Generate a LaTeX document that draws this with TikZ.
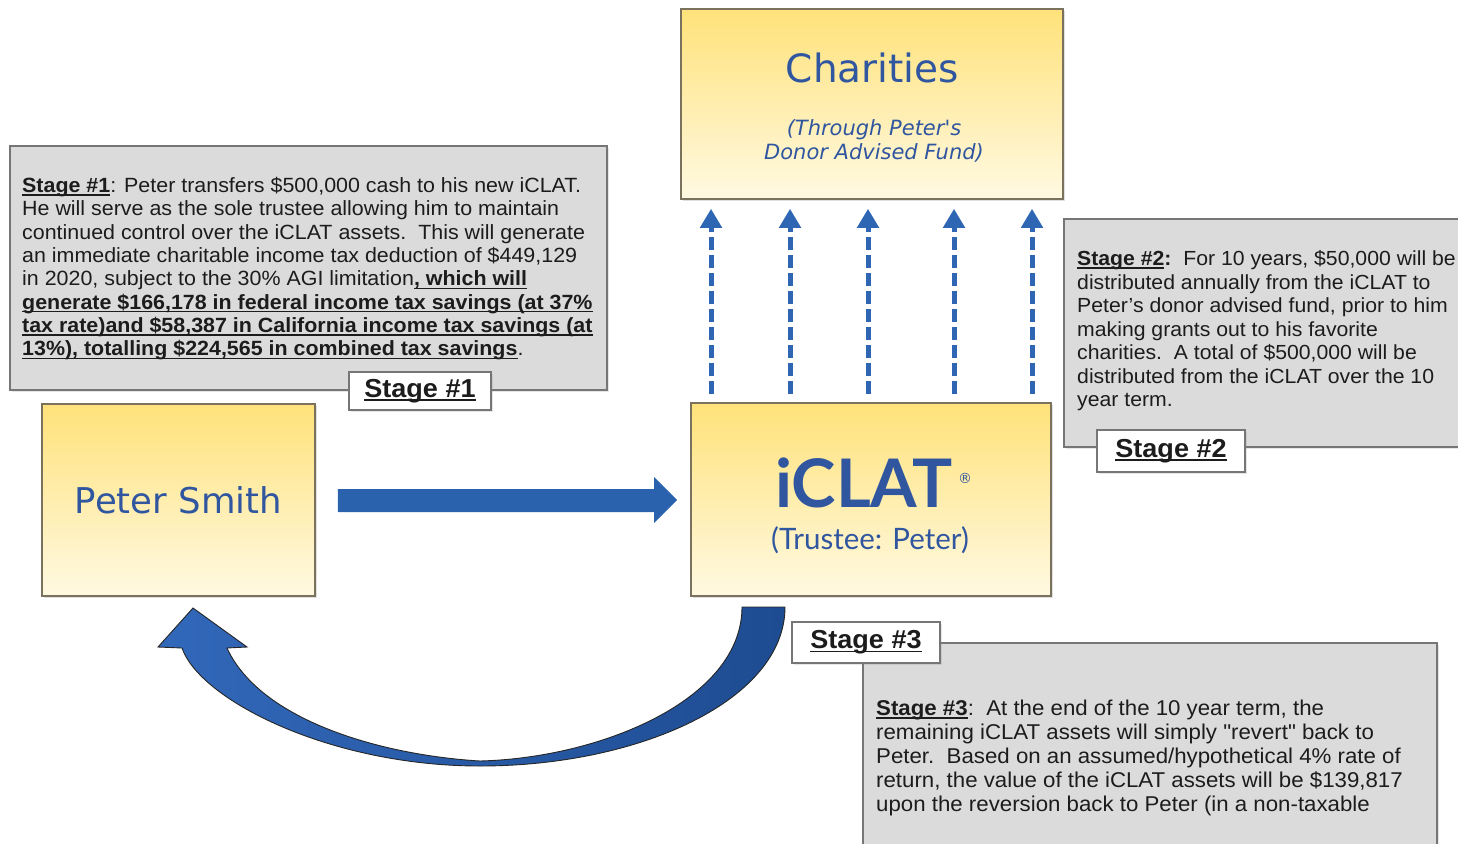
\documentclass[tikz,border=0pt]{standalone}
\usepackage{fontspec}
\setmainfont{Liberation Sans}[FakeStretch=1.04]
\newfontfamily\plainq{Liberation Sans}[FakeStretch=1.04]
\newfontfamily\dvs{DejaVu Sans}
\newfontfamily\lato{Lato}
\usetikzlibrary{arrows.meta,shadows,calc}
\definecolor{boxtop}{RGB}{255,226,122}
\definecolor{boxbot}{RGB}{255,249,226}
\definecolor{boxline}{RGB}{122,114,92}
\definecolor{grayfill}{RGB}{219,219,219}
\definecolor{grayline}{RGB}{118,118,118}
\definecolor{txtblue}{RGB}{48,86,160}
\definecolor{arrblue}{RGB}{42,98,174}
\definecolor{dashblue}{RGB}{46,102,180}
\definecolor{curvL}{RGB}{50,104,186}
\definecolor{curvR}{RGB}{30,76,146}
\definecolor{bodytxt}{RGB}{28,28,28}
\newcommand\ulx[1]{\setbox0\hbox{#1}\rlap{\rule[-3.2pt]{\wd0}{1.3pt}}\box0}
\newcommand\sq{{\plainq"}}
\begin{document}
\begin{tikzpicture}[x=1pt,y=-1pt,
  ybox/.style={draw=boxline, line width=1.6pt, top color=boxtop, bottom color=boxbot,
     drop shadow={shadow xshift=2pt,shadow yshift=-2pt,opacity=0.25}},
  graybox/.style={draw=grayline, line width=1.5pt, fill=grayfill,
     drop shadow={shadow xshift=2pt,shadow yshift=-2pt,opacity=0.2}},
  labelbox/.style={draw=grayline, line width=1.2pt, fill=white, inner sep=0pt,
     font=\bfseries\fontsize{26}{26}\selectfont, text=bodytxt,
     drop shadow={shadow xshift=1.5pt,shadow yshift=-1.5pt,opacity=0.2}},
  bodytext/.style={align=left, inner sep=0pt, text=bodytxt, anchor=base west},
  dasharr/.style={draw=dashblue, line width=5pt, dash pattern=on 13pt off 5pt,
     -{Triangle[width=21pt,length=19pt]}, shorten <=8pt, shorten >=9pt},
  bigarr/.style={fill=arrblue},
  curvarr/.style={left color=curvL, right color=curvR, draw=black!85, line width=0.9pt}
]
\useasboundingbox (0,0) rectangle (1458,843);

% gray explanation boxes
\node[graybox, minimum width=597pt, minimum height=244pt] (s1box) at (308.5,268) {};
\node[graybox, minimum width=398pt, minimum height=228pt] (s2box) at (1263,333) {};
\node[graybox, minimum width=574pt, minimum height=207pt] (s3box) at (1150,746.5) {};

% anchor = baseline of the LAST line
\node[bodytext, font=\fontsize{20.6}{23.3}\selectfont] (s1txt) at (22,355.6) {%
\ulx{\textbf{Stage \#1}}: Peter transfers \$500,000 cash to his new iCLAT.\\
He will serve as the sole trustee allowing him to maintain\\
continued control over the iCLAT assets.\ \ This will generate\\
an immediate charitable income tax deduction of \$449,129\\
in 2020, subject to the 30\% AGI limitation\ulx{\textbf{, which will}}\\
\ulx{\textbf{generate \$166,178 in federal income tax savings (at 37\%}}\\
\ulx{\textbf{tax rate)and \$58,387 in California income tax savings (at}}\\
\ulx{\textbf{13\%), totalling \$224,565 in combined tax savings}}.};

\node[bodytext, font=\fontsize{20.4}{23.5}\selectfont] (s2txt) at (1077,406.5) {%
\ulx{\textbf{Stage \#2}}\textbf{:}\ \ For 10 years, \$50,000 will be\\
distributed annually from the iCLAT to\\
Peter's donor advised fund, prior to him\\
making grants out to his favorite\\
charities.\ \ A total of \$500,000 will be\\
distributed from the iCLAT over the 10\\
year term.};

\node[bodytext, font=\fontsize{21.4}{24}\selectfont] (s3txt) at (876,811.5) {%
\ulx{\textbf{Stage \#3}}:\ \ At the end of the 10 year term, the\\
remaining iCLAT assets will simply \sq revert\sq{} back to\\
Peter.\ \ Based on an assumed/hypothetical 4\% rate of\\
return, the value of the iCLAT assets will be \$139,817\\
upon the reversion back to Peter (in a non-taxable};

% yellow boxes
\node[ybox, minimum width=273pt, minimum height=192pt] (peter) at (178.5,500) {};
\node[text=txtblue, font=\dvs\fontsize{35.5}{36}\selectfont, anchor=base] (petertxt) at (178.5,513) {Peter Smith};

\node[ybox, minimum width=360pt, minimum height=193pt] (iclat) at (871,499.5) {};
\node[text=txtblue, font=\lato\bfseries\fontsize{67}{67}\selectfont, anchor=base] (iclattxt) at (864,507) {iCLAT};
\node[text=txtblue, font=\dvs\fontsize{14}{14}\selectfont, inner sep=0pt] (reg) at (965,478) {®};
\node[text=txtblue, font=\lato\fontsize{29.5}{30}\selectfont, anchor=base] (trustee) at (870,549) {(Trustee: Peter)};

\node[ybox, minimum width=382pt, minimum height=190pt] (charities) at (872,104) {};
\node[text=txtblue, font=\dvs\fontsize{39}{39}\selectfont, anchor=base] (chartxt) at (872.5,82) {Charities};
\node[text=txtblue, font=\dvs\itshape\fontsize{21}{24}\selectfont, align=center, anchor=base, inner sep=0pt] (dafTxt) at (874,159.5) {(Through Peter's\\Donor Advised Fund)};

% stage labels
\node[labelbox, minimum width=142pt, minimum height=38pt] (l1) at (420,391) {\ulx{Stage \#1}};
\node[labelbox, minimum width=148pt, minimum height=42pt] (l2) at (1171,451) {\ulx{Stage \#2}};
\node[labelbox, minimum width=148pt, minimum height=41pt] (l3) at (866,642.5) {\ulx{Stage \#3}};

% straight block arrow Peter -> iCLAT
\fill[bigarr] ($(peter.east)+(22,-11)$) -- ($(iclat.west)+(-36,-10.5)$)
  -- ($(iclat.west)+(-36,-22.5)$) -- ($(iclat.west)+(-13,0.5)$)
  -- ($(iclat.west)+(-36,23.5)$) -- ($(iclat.west)+(-36,12.5)$)
  -- ($(peter.east)+(22,12)$) -- cycle;

% dashed arrows iCLAT -> Charities
\foreach \xx/\nn in {711/1,790/2,868/3,954/4,1032/5}{
  \coordinate (d\nn) at (\xx,300);
  \draw[dasharr] (iclat.north -| d\nn) -- (charities.south -| d\nn);
}

% curved reversion arrow iCLAT -> Peter
\path[curvarr] (785,607) .. controls (785,700) and (640,766) .. (480,766)
  .. controls (330,766) and (200,700) .. (182,648)
  -- (158,647) -- (193,608) -- (247,647) -- (227,648)
  .. controls (260,720) and (380,755) .. (480,761)
  .. controls (600,758) and (742,700) .. (742,607) -- cycle;
\end{tikzpicture}
\end{document}
